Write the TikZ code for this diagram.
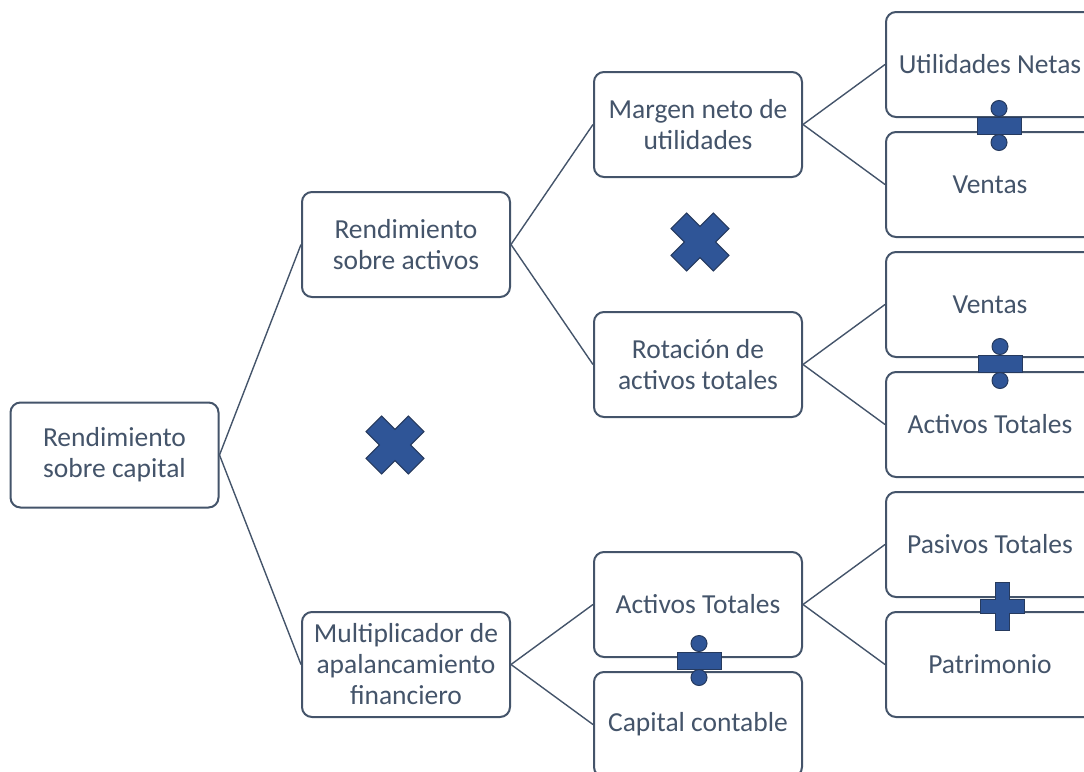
\documentclass[tikz,border=0pt]{standalone}
\usepackage{fontspec}
\setmainfont{Carlito}
\definecolor{slate}{HTML}{44546A}
\definecolor{symfill}{HTML}{2F5597}
\definecolor{symline}{HTML}{263A5E}
\begin{document}
\begin{tikzpicture}[x=1pt,y=-1pt,
  box/.style={draw=slate,line width=2pt,rounded corners=10pt,fill=white,
    minimum width=208pt,minimum height=105pt,inner sep=0pt,align=center,
    text=slate,font=\fontsize{27.5}{31}\selectfont},
  conn/.style={draw=slate,line width=1.4pt},
  sym/.style={fill=symfill,draw=symline,line width=1pt}]
\useasboundingbox (0,0) rectangle (1084,771);
\clip (0,0) rectangle (1084,771);
% nodes
\node[box] (A) at (114.5,455) {Rendimiento\\sobre capital};
\node[box] (B) at (406,244.5) {Rendimiento\\sobre activos};
\node[box] (C) at (406,664.5) {Multiplicador de\\apalancamiento\\financiero};
\node[box] (D) at (698,124.5) {Margen neto de\\utilidades};
\node[box] (E) at (698,364.5) {Rotación de\\activos totales};
\node[box] (F) at (698,604.5) {Activos Totales};
\node[box] (G) at (698,724.5) {Capital contable};
\node[box] (H) at (990,64.5) {Utilidades Netas};
\node[box] (I) at (990,184.5) {Ventas};
\node[box] (J) at (990,304.5) {Ventas};
\node[box] (K) at (990,424.5) {Activos Totales};
\node[box] (L) at (990,544.5) {Pasivos Totales};
\node[box] (M) at (990,664.5) {Patrimonio};
% connectors
\draw[conn] (A.east) -- (B.west);
\draw[conn] (A.east) -- (C.west);
\draw[conn] (B.east) -- (D.west);
\draw[conn] (B.east) -- (E.west);
\draw[conn] (C.east) -- (F.west);
\draw[conn] (C.east) -- (G.west);
\draw[conn] (D.east) -- (H.west);
\draw[conn] (D.east) -- (I.west);
\draw[conn] (E.east) -- (J.west);
\draw[conn] (E.east) -- (K.west);
\draw[conn] (F.east) -- (L.west);
\draw[conn] (F.east) -- (M.west);
% multiplication signs
\foreach \cx/\cy in {700/242, 395/445}{
  \begin{scope}[shift={(\cx,\cy)},rotate=45]
    \path[sym] (-11,-30) -- (11,-30) -- (11,-11) -- (30,-11) -- (30,11) -- (11,11)
      -- (11,30) -- (-11,30) -- (-11,11) -- (-30,11) -- (-30,-11) -- (-11,-11) -- cycle;
  \end{scope}
}
% plus sign
\begin{scope}[shift={(1002,606)}]
  \path[sym] (-7,-24) -- (7,-24) -- (7,-7) -- (22,-7) -- (22,7) -- (7,7)
    -- (7,24) -- (-7,24) -- (-7,7) -- (-22,7) -- (-22,-7) -- (-7,-7) -- cycle;
\end{scope}
% division signs
\foreach \cx/\cy in {999/125.5, 1000/363.5, 699/660.5}{
  \begin{scope}[shift={(\cx,\cy)}]
    \path[sym] (-22,-8.5) rectangle (22,8.5);
    \path[sym] (0,-17) circle (8);
    \path[sym] (0,17) circle (8);
  \end{scope}
}
\end{tikzpicture}
\end{document}
